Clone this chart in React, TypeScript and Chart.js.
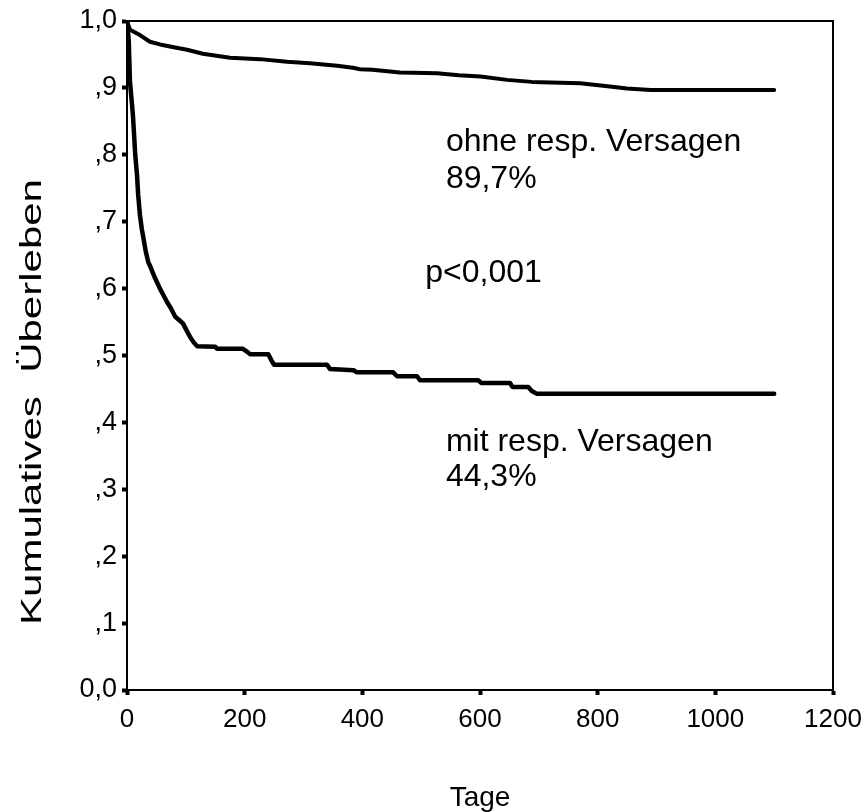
import React, { useEffect, useRef } from "react";
import { Chart, registerables } from "chart.js";

Chart.register(...registerables);

// Upper curve: ohne respiratorisches Versagen
const topDays = [0, 5, 22, 39, 56, 73, 102, 129, 175, 226, 272, 311, 357, 384, 396, 417, 464, 527, 564, 601, 646, 688, 770, 813, 850, 890, 1100];
const topSurv = [1.0, 0.987, 0.979, 0.969, 0.965, 0.962, 0.957, 0.951, 0.945, 0.943, 0.939, 0.937, 0.933, 0.930, 0.928, 0.927, 0.923, 0.922, 0.919, 0.917, 0.912, 0.909, 0.907, 0.903, 0.899, 0.897, 0.897];

// Lower curve: mit respiratorischem Versagen
const lowDays = [0, 3, 5, 8, 10, 12, 14, 17, 19, 22, 25, 28, 32, 36, 41, 48, 56, 62, 68, 75, 82, 90, 95, 101, 107, 113, 119, 150, 153, 197, 205, 209, 240, 246, 250, 340, 345, 385, 390, 452, 459, 493, 498, 597, 602, 651, 655, 682, 688, 696, 1100];
const lowSurv = [1.0, 0.97, 0.91, 0.88, 0.86, 0.83, 0.80, 0.77, 0.74, 0.71, 0.69, 0.675, 0.655, 0.64, 0.63, 0.615, 0.60, 0.59, 0.58, 0.57, 0.558, 0.552, 0.548, 0.538, 0.528, 0.52, 0.514, 0.513, 0.510, 0.510, 0.505, 0.502, 0.502, 0.492, 0.486, 0.486, 0.480, 0.478, 0.475, 0.475, 0.469, 0.469, 0.463, 0.463, 0.459, 0.459, 0.453, 0.453, 0.447, 0.443, 0.443];

const yTickLabels = ["0,0", ",1", ",2", ",3", ",4", ",5", ",6", ",7", ",8", ",9", "1,0"];
const xTickLabels = ["0", "200", "400", "600", "800", "1000", "1200"];

const annotationTexts = ["ohne resp. Versagen", "89,7%", "p<0,001", "mit resp. Versagen", "44,3%"];
const annotationDays = [542, 542, 507, 542, 542];
const annotationSurv = [0.806, 0.750, 0.610, 0.357, 0.305];

const xTitle = "Tage";
const yTitle = "Kumulatives  Überleben";

const FONT = "'Liberation Sans', Arial, sans-serif";

const toPoints = (xs: number[], ys: number[]) => xs.map((x, i) => ({ x, y: ys[i] }));

const textPlugin = {
  id: "kmText",
  afterDraw(chart: any) {
    const { ctx, chartArea, scales } = chart;
    ctx.save();
    // frame top + right
    ctx.strokeStyle = "#000";
    ctx.lineWidth = 2;
    ctx.beginPath();
    ctx.moveTo(chartArea.left, chartArea.top);
    ctx.lineTo(chartArea.right, chartArea.top);
    ctx.lineTo(chartArea.right, chartArea.bottom);
    ctx.stroke();

    ctx.fillStyle = "#000";
    ctx.font = `32px ${FONT}`;
    ctx.textAlign = "left";
    ctx.textBaseline = "alphabetic";
    annotationTexts.forEach((t, i) => {
      const x = scales.x.getPixelForValue(annotationDays[i]);
      const y = scales.y.getPixelForValue(annotationSurv[i]);
      ctx.fillText(t, x, y);
    });

    // x title
    ctx.font = `28px ${FONT}`;
    ctx.textAlign = "center";
    ctx.fillText(xTitle, (chartArea.left + chartArea.right) / 2, 806);

    // y title (stretched along its direction like the original)
    ctx.save();
    ctx.translate(41, 402);
    ctx.rotate(-Math.PI / 2);
    ctx.scale(1.4, 1);
    ctx.font = `30px ${FONT}`;
    ctx.fillText(yTitle, 0, 0);
    ctx.restore();
    ctx.restore();
  },
};

export default function App() {
  const ref = useRef<HTMLCanvasElement>(null);
  useEffect(() => {
    if (!ref.current) return;
    const chart = new Chart(ref.current, {
      type: "line",
      data: {
        datasets: [
          {
            label: "ohne resp. Versagen",
            data: toPoints(topDays, topSurv),
            borderColor: "#000",
            borderWidth: 4,
            pointRadius: 0,
            borderJoinStyle: "round",
            borderCapStyle: "round",
            fill: false,
          },
          {
            label: "mit resp. Versagen",
            data: toPoints(lowDays, lowSurv),
            borderColor: "#000",
            borderWidth: 4.5,
            pointRadius: 0,
            borderJoinStyle: "round",
            borderCapStyle: "round",
            fill: false,
          },
        ],
      },
      options: {
        animation: false,
        responsive: false,
        maintainAspectRatio: false,
        layout: { padding: { left: 0, right: 32, top: 21, bottom: 0 } },
        plugins: { legend: { display: false }, tooltip: { enabled: false }, title: { display: false } },
        scales: {
          x: {
            type: "linear",
            min: 0,
            max: 1200,
            ticks: {
              stepSize: 200,
              color: "#000",
              font: { family: FONT, size: 26 },
              padding: 9,
              maxRotation: 0,
              callback: (v: any) => xTickLabels[Math.round(Number(v) / 200)] ?? "",
            },
            grid: { drawOnChartArea: false, drawTicks: true, tickLength: 5, tickWidth: 4, tickColor: "#000" },
            border: { display: true, color: "#000", width: 2 },
            afterFit: (s: any) => {
              s.height = 122;
              s.paddingLeft = 0;
              s.paddingRight = 0;
            },
          },
          y: {
            min: 0,
            max: 1,
            ticks: {
              stepSize: 0.1,
              color: "#000",
              font: { family: FONT, size: 27 },
              padding: 5,
              callback: (v: any) => yTickLabels[Math.round(Number(v) * 10)] ?? "",
            },
            grid: { drawOnChartArea: false, drawTicks: true, tickLength: 5, tickWidth: 4, tickColor: "#000" },
            border: { display: true, color: "#000", width: 2 },
            afterFit: (s: any) => {
              s.width = 127;
              s.paddingTop = 0;
              s.paddingBottom = 0;
            },
          },
        },
      },
      plugins: [textPlugin],
    });
    return () => chart.destroy();
  }, []);
  return (
    <div style={{ position: "absolute", left: 0, top: 0, width: 865, height: 812, background: "#fff" }}>
      <canvas ref={ref} width={865} height={812} style={{ display: "block", width: 865, height: 812 }} />
    </div>
  );
}
